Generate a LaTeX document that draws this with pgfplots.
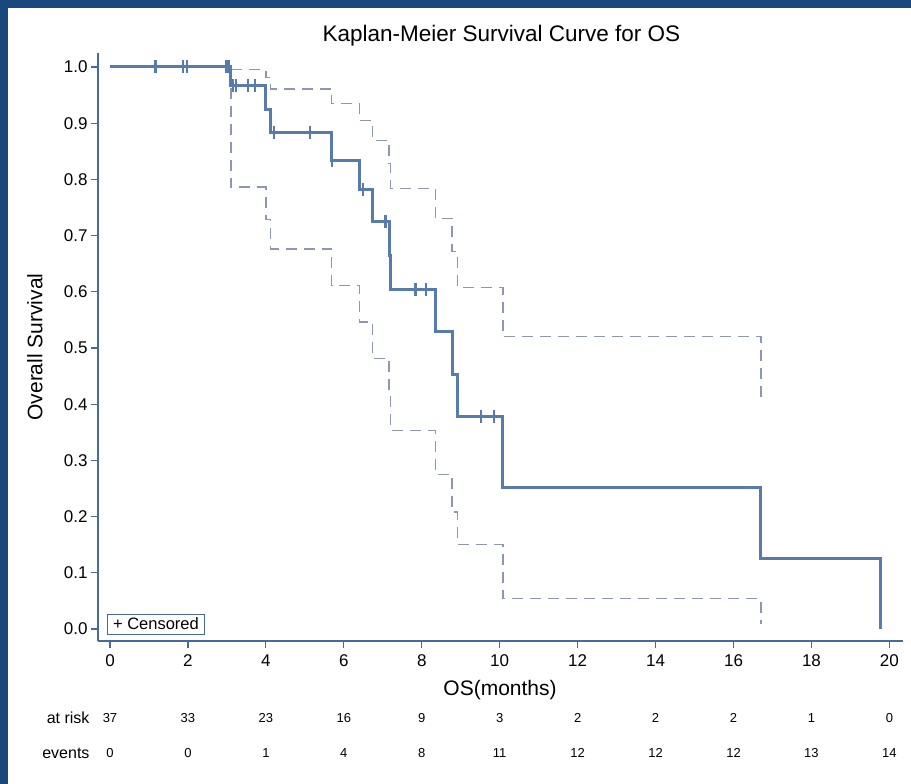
\documentclass[border=0pt]{standalone}
\usepackage{pgfplots}
\pgfplotsset{compat=1.18}
\usepackage{fontspec}
\setmainfont{Liberation Sans}
\definecolor{frameblue}{RGB}{24,72,124}
\definecolor{kmblue}{RGB}{88,123,173}
\definecolor{cigray}{RGB}{140,152,175}
\definecolor{axblue}{RGB}{70,105,160}

\pgfplotstableread{
t s
0 1.0
3.10 0.9667
4.00 0.9246
4.12 0.8826
5.69 0.8336
6.40 0.7815
6.74 0.7257
7.16 0.6652
7.20 0.6047
8.35 0.5291
8.78 0.4535
8.92 0.3779
10.08 0.2520
16.70 0.1260
19.77 0.0
}\kmdata

\pgfplotstableread{
t s
1.17 1.0
1.87 1.0
1.97 1.0
2.99 1.0
3.06 1.0
3.15 0.9667
3.23 0.9667
3.55 0.9667
3.73 0.9667
4.21 0.8826
5.13 0.8826
5.70 0.8336
6.49 0.7815
7.07 0.7257
7.84 0.6047
8.11 0.6047
9.52 0.3779
9.86 0.3779
}\censdata

\pgfplotstableread{
t s
3.10 0.9952
4.00 0.9808
4.12 0.9609
5.69 0.9350
6.40 0.9043
6.74 0.8689
7.16 0.8283
7.20 0.7843
8.35 0.7306
8.78 0.6715
8.92 0.6072
10.08 0.5207
16.70 0.4066
}\upperdata

\pgfplotstableread{
t s
3.10 0.9952
3.10 0.7861
4.00 0.7281
4.12 0.6763
5.69 0.6109
6.40 0.5464
6.74 0.4811
7.16 0.4138
7.20 0.3529
8.35 0.2750
8.78 0.2081
8.92 0.1500
10.08 0.0544
16.70 0.0085
}\lowerdata

\begin{document}
\begin{tikzpicture}
\fill[frameblue] (0pt,0pt) rectangle (911pt,784pt);
\fill[white] (8pt,0pt) rectangle (911pt,776pt);
\useasboundingbox (0pt,0pt) rectangle (911pt,784pt);
\begin{axis}[
  at={(98pt,143pt)}, anchor=south west,
  scale only axis, width=805pt, height=588pt,
  xmin=-0.308, xmax=20.349, ymin=-0.0214, ymax=1.0249,
  axis x line*=bottom, axis y line*=left,
  axis line style={axblue, line width=1.2pt},
  every tick/.style={axblue, line width=1.2pt},
  tick align=outside, major tick length=7pt,
  xtick={0,2,4,6,8,10,12,14,16,18,20},
  ytick={0,0.1,0.2,0.3,0.4,0.5,0.6,0.7,0.8,0.9,1.0},
  yticklabel style={/pgf/number format/.cd, fixed, fixed zerofill, precision=1},
  xticklabel style={yshift=-3pt},
  /pgf/number format/assume math mode=true,
  tick label style={font=\fontsize{17}{20}\selectfont},
  title={Kaplan-Meier Survival Curve for OS},
  title style={at={(axis description cs:0.5012,1.0187)}, anchor=center, font=\fontsize{22.5}{26}\selectfont},
  xlabel={OS(months)},
  xlabel style={at={(axis description cs:0.4994,-0.0833)}, anchor=center, font=\fontsize{21}{24}\selectfont},
  ylabel={Overall Survival},
  ylabel style={at={(axis description cs:-0.0783,0.5)}, anchor=center, font=\fontsize{21}{24}\selectfont},
  clip=false,
]
\addplot[cigray, line width=1.4pt, dash pattern=on 11pt off 7pt, const plot mark left] table[x=t,y=s] {\upperdata};
\addplot[cigray, line width=1.4pt, dash pattern=on 11pt off 7pt, const plot mark left] table[x=t,y=s] {\lowerdata};
\addplot[kmblue, line width=3pt, const plot mark left] table[x=t,y=s] {\kmdata};
\addplot[only marks, mark=|, mark size=6.5pt, mark options={kmblue, line width=2.2pt}] table[x=t,y=s] {\censdata};
\node[draw=axblue, line width=1pt, inner xsep=6pt, inner ysep=2pt, minimum height=20pt, font=\fontsize{16.5}{19}\selectfont] at (axis description cs:0.072,0.0289) {+ Censored};
\end{axis}
\node[anchor=east, font=\fontsize{16}{19}\selectfont] at (93pt,66pt) {at risk};
\node[anchor=east, font=\fontsize{16}{19}\selectfont] at (93pt,31pt) {events};
\foreach \t/\r/\e in {0/37/0, 2/33/0, 4/23/1, 6/16/4, 8/9/8, 10/3/11, 12/2/12, 14/2/12, 16/2/12, 18/1/13, 20/0/14} {
  \node[font=\fontsize{13}{16}\selectfont] at ({110pt+38.97pt*\t},66pt) {\r};
  \node[font=\fontsize{13}{16}\selectfont] at ({110pt+38.97pt*\t},31pt) {\e};
}
\end{tikzpicture}
\end{document}
